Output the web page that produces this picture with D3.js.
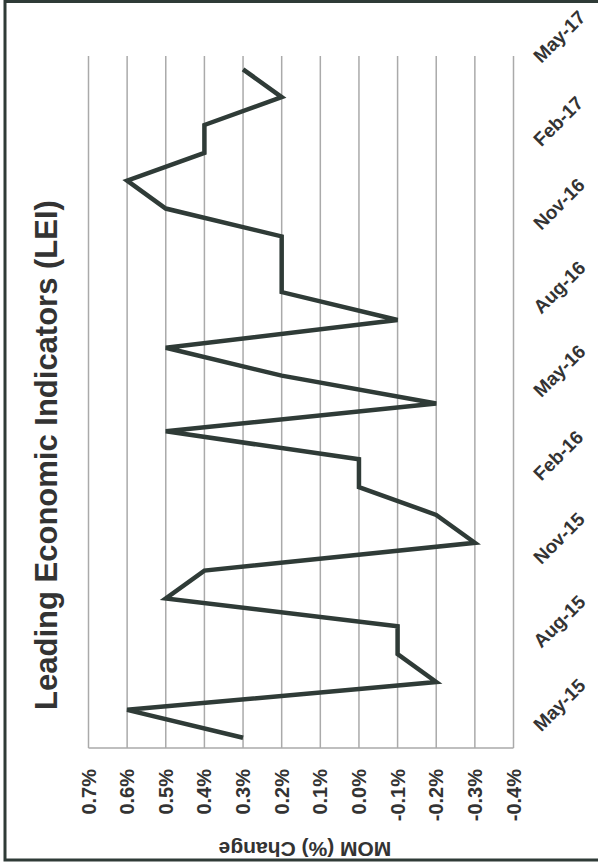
<!DOCTYPE html>
<html>
<head>
<meta charset="utf-8">
<script src="https://cdn.jsdelivr.net/npm/d3@7"></script>
<style>
  html, body { margin: 0; padding: 0; background: #fff; }
  svg { display: block; }
  text { font-family: "Liberation Sans", Arial, Helvetica, sans-serif; }
</style>
</head>
<body>
<svg id="chart" width="598" height="868"></svg>
<script>
// ---- Data ----
const months = ["May-15","Jun-15","Jul-15","Aug-15","Sep-15","Oct-15","Nov-15","Dec-15",
                "Jan-16","Feb-16","Mar-16","Apr-16","May-16","Jun-16","Jul-16","Aug-16",
                "Sep-16","Oct-16","Nov-16","Dec-16","Jan-17","Feb-17","Mar-17","Apr-17","May-17"];
const momChange = [0.3, 0.6, -0.2, -0.1, -0.1, 0.5, 0.4, -0.3,
                   -0.2, 0.0, 0.0, 0.5, -0.2, 0.2, 0.5, -0.1,
                   0.2, 0.2, 0.2, 0.5, 0.6, 0.4, 0.4, 0.2, 0.3];
const monthTickLabels = ["May-15","Aug-15","Nov-15","Feb-16","May-16","Aug-16","Nov-16","Feb-17","May-17"];
const valueTicks = [0.7, 0.6, 0.5, 0.4, 0.3, 0.2, 0.1, 0.0, -0.1, -0.2, -0.3, -0.4];
const titleText = "Leading Economic Indicators (LEI)";
const axisTitleText = "MOM (%) Change";

// ---- Layout (chart is drawn rotated 90° counter-clockwise) ----
const svg = d3.select("#chart");
const plot = { left: 88.5, right: 513.5, top: 56, bottom: 748 };
const ink = "#2f3b37";
const textColor = "#333";

// value scale runs horizontally (0.7% on the left, -0.4% on the right)
const x = d3.scaleLinear().domain([0.7, -0.4]).range([plot.left, plot.right]);
// time (category) scale runs vertically (May-15 at the bottom)
const y = d3.scalePoint().domain(months).range([737.7, 69.3]);

// outer frame
svg.append("rect")
  .attr("x", 5).attr("y", 1.5).attr("width", 600).attr("height", 858.5)
  .attr("fill", "none").attr("stroke", ink).attr("stroke-width", 3);

// gridlines at each value tick
svg.append("g").selectAll("line").data(valueTicks).join("line")
  .attr("x1", d => x(d)).attr("x2", d => x(d))
  .attr("y1", plot.top).attr("y2", plot.bottom)
  .attr("stroke", "#aaaaaa").attr("stroke-width", 1.5);

// value-axis baseline (bottom edge of plot)
svg.append("line")
  .attr("x1", plot.left).attr("x2", plot.right)
  .attr("y1", plot.bottom).attr("y2", plot.bottom)
  .attr("stroke", "#aaaaaa").attr("stroke-width", 1.5);

// value tick labels (rotated, reading upward)
const fmt = d => (d < 0 ? "-" : "") + Math.abs(d).toFixed(1) + "%";
svg.append("g").selectAll("text").data(valueTicks).join("text")
  .attr("transform", d => `translate(${x(d)},769) rotate(-90)`)
  .attr("text-anchor", "end")
  .attr("dy", "0.35em")
  .attr("font-size", 20)
  .attr("font-weight", "bold")
  .attr("fill", textColor)
  .text(fmt);

// category tick labels (rotated 45°)
svg.append("g").selectAll("text").data(monthTickLabels).join("text")
  .attr("transform", d => `translate(${plot.right + 23},${y(d) - 10}) rotate(-45)`)
  .attr("text-anchor", "start")
  .attr("dy", "0.35em")
  .attr("font-size", 19)
  .attr("font-weight", "bold")
  .attr("fill", textColor)
  .text(d => d);

// data line
const line = d3.line()
  .x((d, i) => x(d))
  .y((d, i) => y(months[i]));
svg.append("path")
  .datum(momChange)
  .attr("d", line)
  .attr("fill", "none")
  .attr("stroke", ink)
  .attr("stroke-width", 4.5)
  .attr("stroke-linejoin", "miter");

// chart title
svg.append("text")
  .attr("transform", "translate(57,455) rotate(-90)")
  .attr("text-anchor", "middle")
  .attr("font-size", 31)
  .attr("font-weight", "bold")
  .attr("fill", textColor)
  .text(titleText);

// value axis title (upside down)
svg.append("text")
  .attr("transform", "translate(305,842) rotate(180)")
  .attr("text-anchor", "middle")
  .attr("font-size", 21)
  .attr("font-weight", "bold")
  .attr("fill", textColor)
  .text(axisTitleText);
</script>
</body>
</html>
